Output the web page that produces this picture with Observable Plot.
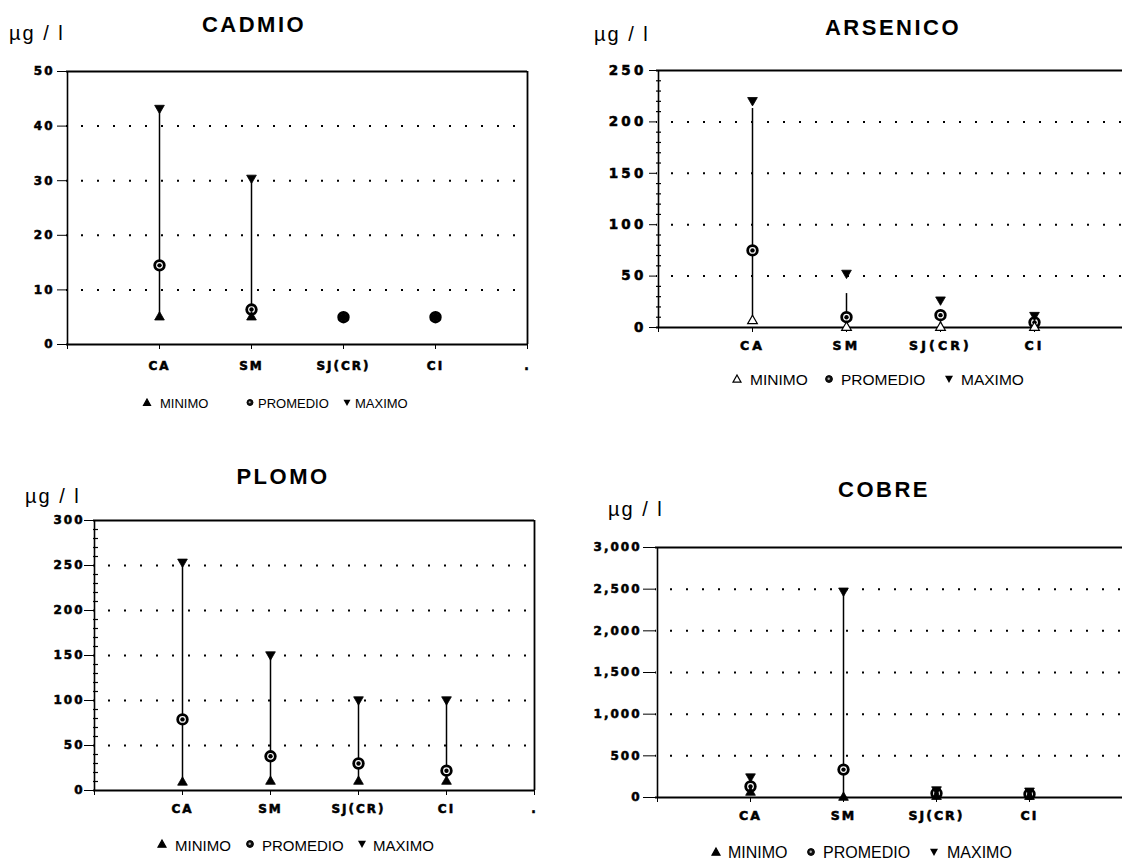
<!DOCTYPE html>
<html><head><meta charset="utf-8">
<script src="https://cdn.jsdelivr.net/npm/d3@7"></script>
<script src="https://cdn.jsdelivr.net/npm/@observablehq/plot@0.6"></script>
<style>
html,body{margin:0;padding:0;background:#fff;overflow:hidden}
#root{position:relative;width:1122px;height:862px;overflow:hidden}
.abs{position:absolute}
.title{font-family:"Liberation Sans",Arial,sans-serif;font-weight:bold;font-size:22px;letter-spacing:2.5px;transform:translate(-50%,-50%);white-space:nowrap;color:#000}
.unit{font-family:"Liberation Sans",Arial,sans-serif;font-size:20px;line-height:20px;letter-spacing:2px;white-space:nowrap;color:#000}
.leg{font-family:"Liberation Sans",Arial,sans-serif;white-space:nowrap;color:#000;transform:translateY(-50%);line-height:1}
.legsym{position:absolute;transform:translate(-50%,-50%)}
</style></head><body><div id="root"></div>
<script>
// ---- data ----
const categorias = ["CA", "SM", "SJ(CR)", "CI"];
const ejeX = ["", "CA", "SM", "SJ(CR)", "CI", "."];
const leyenda = ["MINIMO", "PROMEDIO", "MAXIMO"];
const unidad = "µg / l";

const cadmioMin  = [5, 5, 5, 5];
const cadmioProm = [14.5, 6.4, 5, 5];
const cadmioMax  = [43.3, 30.5, 5, 5];
const cadmioTope = [43.3, 30.5, 5, 5];
const cadmioTicks = [0, 10, 20, 30, 40, 50];

const arsenicoMin  = [6.5, 0, 0, 0];
const arsenicoProm = [75, 10, 12, 5];
const arsenicoMax  = [221, 53, 27, 12];
const arsenicoTope = [213, 33, 12, 5];
const arsenicoTicks = [0, 50, 100, 150, 200, 250];

const plomoMin  = [9, 10, 10, 10];
const plomoProm = [79, 38, 30, 22];
const plomoMax  = [254, 151, 101, 101];
const plomoTope = [254, 151, 101, 101];
const plomoTicks = [0, 50, 100, 150, 200, 250, 300];

const cobreMin  = [60, 0, 10, 10];
const cobreProm = [132, 335, 50, 40];
const cobreMax  = [250, 2480, 95, 80];
const cobreTope = [250, 2480, 95, 80];
const cobreTicks = [0, 500, 1000, 1500, 2000, 2500, 3000];

// ---- helpers ----
const sqrt3 = Math.sqrt(3);
const triangleDown = {
  draw(context, size) {
    const y = -Math.sqrt(size / (sqrt3 * 3));
    context.moveTo(0, -y * 2);
    context.lineTo(-sqrt3 * y, y);
    context.lineTo(sqrt3 * y, y);
    context.closePath();
  }
};

const root = document.getElementById("root");

function addText(cls, text, left, top) {
  const d = document.createElement("div");
  d.className = "abs " + cls;
  d.textContent = text;
  d.style.left = left + "px";
  d.style.top = top + "px";
  root.appendChild(d);
  return d;
}

function symSvg(kind, size, open) {
  const s = size + 4;
  const c = s / 2, h = size / 2;
  let inner = "";
  if (kind === "up") inner = `<polygon points="${c},${c - h} ${c + h},${c + h * 0.8} ${c - h},${c + h * 0.8}" fill="${open ? "#fff" : "#000"}" stroke="#000" stroke-width="1.2"/>`;
  if (kind === "down") inner = `<polygon points="${c - h},${c - h * 0.8} ${c + h},${c - h * 0.8} ${c},${c + h}" fill="#000"/>`;
  if (kind === "circ") inner = `<circle cx="${c}" cy="${c}" r="${h * 0.85}" fill="#111" stroke="#000" stroke-width="1"/><circle cx="${c - 0.3}" cy="${c - 0.3}" r="${h * 0.3}" fill="#aaa"/>`;
  return `<svg width="${s}" height="${s}" viewBox="0 0 ${s} ${s}">${inner}</svg>`;
}

function addLegend(cfg) {
  const kinds = ["up", "circ", "down"];
  leyenda.forEach((lab, i) => {
    const sd = document.createElement("div");
    sd.className = "legsym";
    sd.style.left = cfg.sym[i] + "px";
    sd.style.top = cfg.y + "px";
    sd.innerHTML = symSvg(kinds[i], cfg.symSize, i === 0 && cfg.minOpen);
    root.appendChild(sd);
    const t = addText("leg", lab, cfg.txt[i], cfg.y);
    t.style.fontSize = cfg.fontSize + "px";
  });
}

function panel(cfg) {
  const rows = categorias.map((c, i) => ({
    cat: c, min: cfg.min[i], prom: cfg.prom[i], max: cfg.max[i], tope: cfg.tope[i]
  }));
  const frameW = cfg.width - cfg.marginLeft - cfg.marginRight;
  const yMax = cfg.ticks[cfg.ticks.length - 1];
  const grid = cfg.ticks.slice(1, -1);
  const marks = [
    Plot.ruleY(grid, {stroke: "#000", strokeWidth: 2, strokeDasharray: "2,14", strokeDashoffset: 1}),
  ];
  if (cfg.minor) {
    marks.push(Plot.ruleY(cfg.minor, {stroke: "#000", strokeWidth: 1.2, insetRight: frameW - 5}));
  }
  marks.push(
    Plot.ruleY([yMax], {stroke: "#000", strokeWidth: 2}),
    Plot.ruleY([0], {stroke: "#000", strokeWidth: 2.2}),
    Plot.ruleX([""], {stroke: "#000", strokeWidth: 1.6})
  );
  if (cfg.rightFrame) marks.push(Plot.ruleX(["."], {stroke: "#000", strokeWidth: 1.8}));
  const xTicks = cfg.rightFrame ? ejeX : ejeX.slice(0, -1);
  marks.push(
    Plot.axisY({
      ticks: cfg.ticks, tickSize: cfg.yTickSize, tickPadding: cfg.yTickPadding,
      tickFormat: cfg.format, label: null, fontSize: cfg.yFont, fontWeight: "bold"
    }),
    Plot.axisX({
      ticks: xTicks, tickSize: 5, tickPadding: cfg.xTickPadding, label: null, fontSize: cfg.xFont, fontWeight: "bold"
    }),
    Plot.ruleX(rows, {x: "cat", y1: "min", y2: "tope", stroke: "#000", strokeWidth: 1.5}),
    Plot.dot(rows, {x: "cat", y: "prom", r: 4.8, fill: "#fff", stroke: "#000", strokeWidth: 2.8}),
    Plot.dot(rows, {x: "cat", y: "prom", r: 2.2, fill: "#000"}),
    Plot.dot(rows, {x: "cat", y: "min", symbol: "triangle", r: 3.6,
      fill: cfg.minOpen ? "#fff" : "#000", stroke: "#000", strokeWidth: cfg.minOpen ? 1.2 : 0.8}),
    Plot.dot(rows, {x: "cat", y: "max", symbol: triangleDown, r: 3.6, fill: "#000", stroke: "#000", strokeWidth: 0.8})
  );
  const svg = Plot.plot({
    width: cfg.width, height: cfg.height,
    marginLeft: cfg.marginLeft, marginRight: cfg.marginRight,
    marginTop: cfg.marginTop, marginBottom: cfg.marginBottom,
    style: {
      fontFamily: "'DejaVu Sans', sans-serif", fontWeight: "bold",
      letterSpacing: cfg.ls + "px", color: "#000", background: "transparent", overflow: "visible"
    },
    x: {type: "point", domain: ejeX, range: cfg.xRange, padding: 0, label: null},
    y: {domain: [0, yMax], label: null},
    marks
  });
  // enforce tick label font sizes and heavier strokes
  svg.querySelectorAll("g[aria-label]").forEach(g => {
    const lab = g.getAttribute("aria-label");
    const fs = lab === "y-axis tick label" ? cfg.yFont : lab === "x-axis tick label" ? cfg.xFont : null;
    if (fs) {
      g.setAttribute("font-size", fs);
      g.querySelectorAll("text").forEach(t => {
        t.style.fontSize = fs + "px";
        t.style.fontWeight = "bold";
        t.style.stroke = "#000";
        t.style.strokeWidth = "0.55px";
        t.style.fill = "#000";
      });
    }
  });
  const holder = document.createElement("div");
  holder.className = "abs";
  holder.style.left = cfg.left + "px";
  holder.style.top = cfg.top + "px";
  holder.style.width = cfg.width + "px";
  holder.style.height = cfg.height + "px";
  holder.appendChild(svg);
  root.appendChild(holder);
}

// ---- CADMIO ----
panel({
  left: 0, top: 0, width: 560, height: 380,
  marginLeft: 66, marginRight: 33, marginTop: 71, marginBottom: 36,
  xRange: [66, 527], ticks: cadmioTicks, minor: null, rightFrame: true,
  yTickSize: 9, yTickPadding: 3, xTickPadding: 12, yFont: 12, xFont: 12, ls: 2,
  min: cadmioMin, prom: cadmioProm, max: cadmioMax, tope: cadmioTope, minOpen: false
});
addText("title", "CADMIO", 254, 25);
addText("unit", unidad, 9, 23);
addLegend({y: 403, fontSize: 13, symSize: 7, sym: [147, 250, 347], txt: [160, 258, 355], minOpen: false});

// ---- ARSENICO ----
panel({
  left: 560, top: 0, width: 562, height: 360,
  marginLeft: 96, marginRight: 0, marginTop: 70, marginBottom: 33,
  xRange: [96, 569.5], ticks: arsenicoTicks, minor: d3.range(10, 250, 10).filter(v => v % 50 !== 0),
  rightFrame: false,
  yTickSize: 7, yTickPadding: 3, xTickPadding: 9, yFont: 13.5, xFont: 12.5, ls: 3.2,
  min: arsenicoMin, prom: arsenicoProm, max: arsenicoMax, tope: arsenicoTope, minOpen: true
});
addText("title", "ARSENICO", 893, 28);
addText("unit", unidad, 594, 24);
addLegend({y: 380, fontSize: 15.5, symSize: 8, sym: [737, 829, 949], txt: [750, 841, 961], minOpen: true});

// ---- PLOMO ----
panel({
  left: 0, top: 420, width: 560, height: 400,
  marginLeft: 93, marginRight: 26, marginTop: 100, marginBottom: 30,
  xRange: [93, 534], ticks: plomoTicks, minor: d3.range(10, 300, 10).filter(v => v % 50 !== 0),
  rightFrame: true,
  yTickSize: 9, yTickPadding: 0, xTickPadding: 9, yFont: 12, xFont: 12, ls: 2,
  min: plomoMin, prom: plomoProm, max: plomoMax, tope: plomoTope, minOpen: false
});
addText("title", "PLOMO", 283, 477);
addText("unit", unidad, 25, 486);
addLegend({y: 845, fontSize: 15, symSize: 8, sym: [162, 250, 362], txt: [175, 262, 373], minOpen: false});

// ---- COBRE ----
panel({
  left: 560, top: 420, width: 562, height: 400,
  marginLeft: 95, marginRight: 0, marginTop: 127, marginBottom: 23,
  xRange: [95, 563], ticks: cobreTicks, minor: null, rightFrame: false,
  yTickSize: 12, yTickPadding: 2, xTickPadding: 9, yFont: 12, xFont: 12.5, ls: 2,
  format: d3.format(","),
  min: cobreMin, prom: cobreProm, max: cobreMax, tope: cobreTope, minOpen: false
});
addText("title", "COBRE", 884, 490);
addText("unit", unidad, 608, 499);
addLegend({y: 853, fontSize: 16, symSize: 8, sym: [716, 811, 934], txt: [728, 823, 947], minOpen: false});
</script></body></html>
